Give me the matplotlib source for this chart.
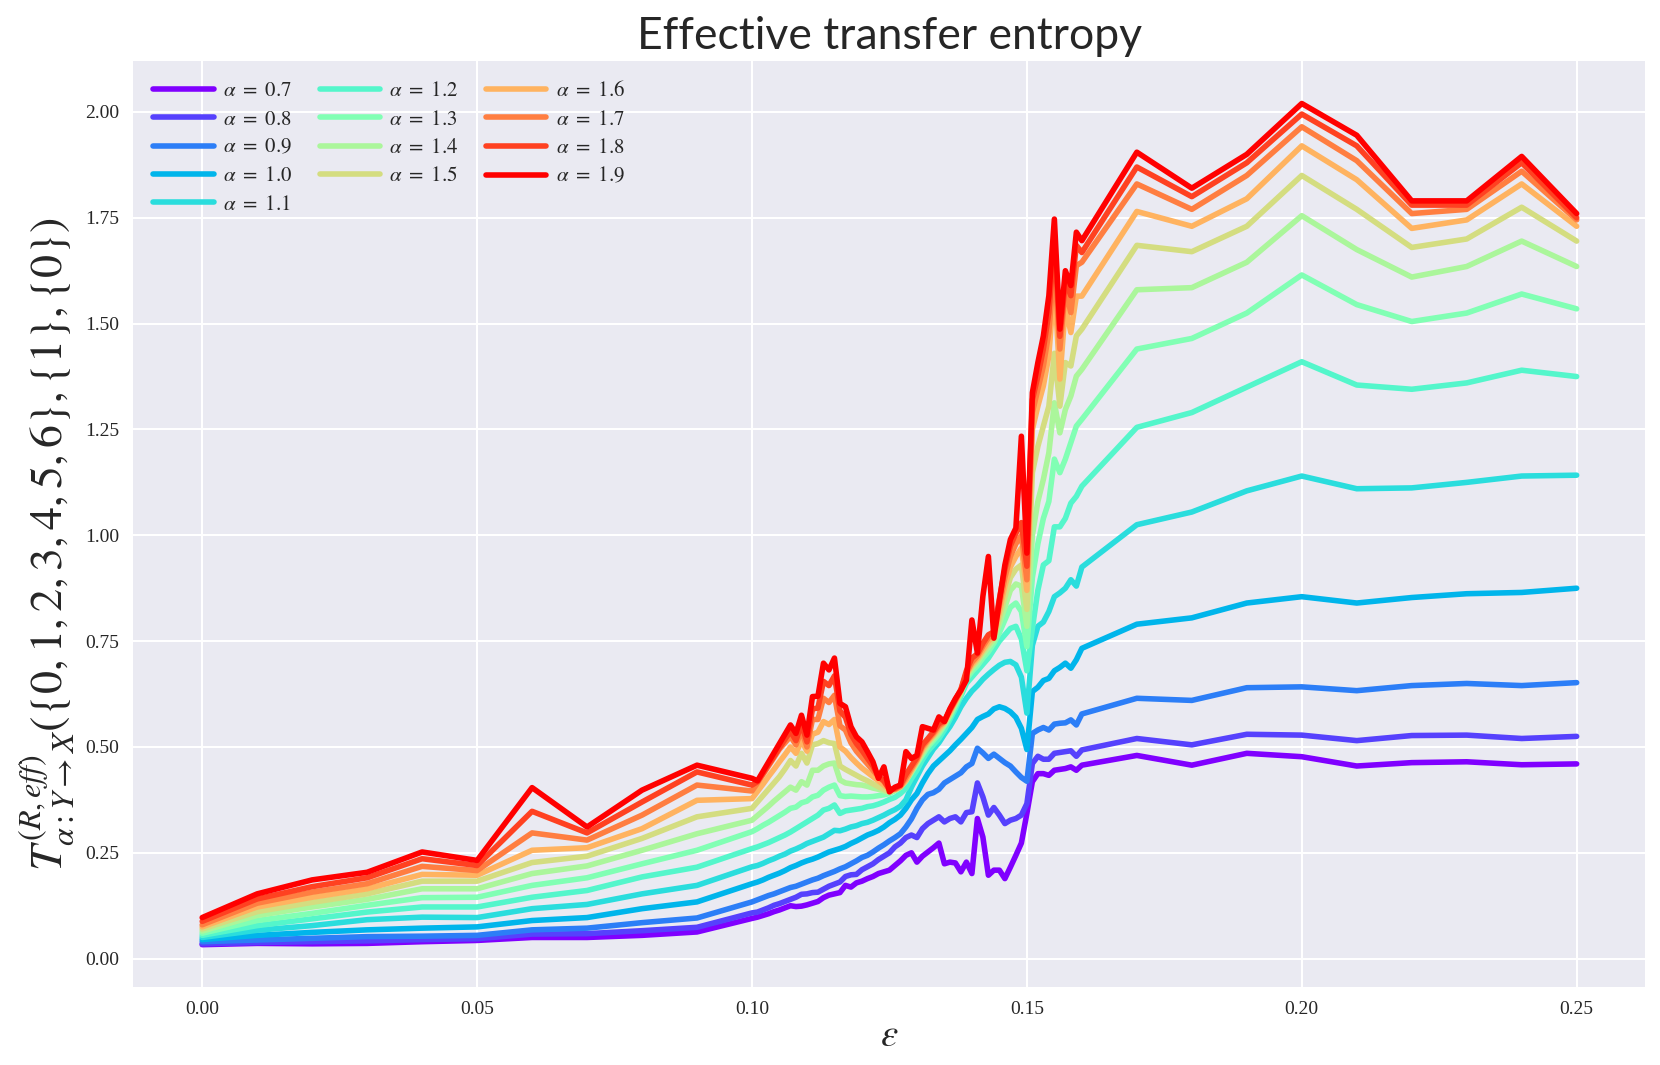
import numpy as np
import matplotlib
matplotlib.use('Agg')
import matplotlib.pyplot as plt

# epsilon grid: coarse 0.01 steps, fine 0.001 steps between 0.10 and 0.16
eps = np.concatenate([np.arange(0, 10) * 0.01,
                      np.arange(100, 161) * 0.001,
                      np.arange(17, 26) * 0.01])

alphas = [0.7, 0.8, 0.9, 1.0, 1.1, 1.2, 1.3, 1.4, 1.5, 1.6, 1.7, 1.8, 1.9]

te_07 = [0.033, 0.036, 0.035, 0.036, 0.040, 0.043, 0.050, 0.050, 0.055, 0.063,
         0.095, 0.098, 0.102, 0.106, 0.111, 0.115, 0.120, 0.125, 0.123, 0.124,
         0.127, 0.131, 0.135, 0.144, 0.150, 0.153, 0.156, 0.173, 0.169, 0.179,
         0.183, 0.189, 0.194, 0.201, 0.205, 0.209, 0.220, 0.231, 0.244, 0.250,
         0.228, 0.242, 0.252, 0.262, 0.273, 0.224, 0.228, 0.226, 0.205, 0.228,
         0.201, 0.331, 0.287, 0.197, 0.209, 0.209, 0.189, 0.216, 0.244, 0.273,
         0.343, 0.418, 0.437, 0.437, 0.433, 0.445, 0.447, 0.449, 0.453, 0.445,
         0.457,
         0.480, 0.457, 0.485, 0.477, 0.455, 0.463, 0.465, 0.458, 0.460]

te_08 = [0.035, 0.038, 0.040, 0.042, 0.045, 0.047, 0.058, 0.059, 0.066, 0.074,
         0.108, 0.110, 0.115, 0.120, 0.126, 0.130, 0.135, 0.140, 0.145, 0.152,
         0.153, 0.156, 0.157, 0.164, 0.171, 0.176, 0.181, 0.194, 0.198, 0.199,
         0.210, 0.217, 0.224, 0.234, 0.242, 0.250, 0.264, 0.273, 0.286, 0.292,
         0.286, 0.307, 0.319, 0.327, 0.335, 0.323, 0.331, 0.335, 0.323, 0.345,
         0.347, 0.415, 0.382, 0.339, 0.357, 0.339, 0.319, 0.327, 0.331, 0.339,
         0.366, 0.461, 0.478, 0.471, 0.471, 0.485, 0.487, 0.489, 0.491, 0.478,
         0.493,
         0.520, 0.505, 0.530, 0.528, 0.515, 0.527, 0.528, 0.520, 0.525]

te_09 = [0.040, 0.044, 0.048, 0.052, 0.053, 0.055, 0.068, 0.072, 0.085, 0.096,
         0.134, 0.139, 0.144, 0.149, 0.153, 0.158, 0.163, 0.168, 0.171, 0.176,
         0.181, 0.186, 0.190, 0.196, 0.201, 0.206, 0.212, 0.217, 0.224, 0.231,
         0.239, 0.244, 0.252, 0.261, 0.269, 0.278, 0.286, 0.295, 0.311, 0.330,
         0.355, 0.375, 0.388, 0.392, 0.400, 0.415, 0.423, 0.431, 0.439, 0.453,
         0.461, 0.497, 0.486, 0.473, 0.483, 0.473, 0.463, 0.455, 0.441, 0.428,
         0.419, 0.532, 0.540, 0.546, 0.540, 0.554, 0.556, 0.557, 0.564, 0.552,
         0.578,
         0.615, 0.610, 0.640, 0.642, 0.633, 0.645, 0.650, 0.645, 0.652]

te_10 = [0.045, 0.055, 0.062, 0.068, 0.072, 0.075, 0.090, 0.097, 0.118, 0.134,
         0.177, 0.181, 0.186, 0.192, 0.197, 0.202, 0.208, 0.215, 0.220, 0.226,
         0.231, 0.235, 0.240, 0.246, 0.252, 0.256, 0.260, 0.265, 0.272, 0.278,
         0.285, 0.292, 0.297, 0.303, 0.311, 0.321, 0.329, 0.339, 0.355, 0.375,
         0.390, 0.415, 0.437, 0.455, 0.467, 0.479, 0.491, 0.505, 0.518, 0.532,
         0.546, 0.565, 0.572, 0.578, 0.590, 0.595, 0.591, 0.583, 0.570, 0.544,
         0.494, 0.631, 0.641, 0.657, 0.662, 0.680, 0.688, 0.698, 0.686, 0.706,
         0.733,
         0.790, 0.805, 0.840, 0.855, 0.840, 0.853, 0.862, 0.865, 0.875]

te_11 = [0.050, 0.067, 0.078, 0.092, 0.098, 0.097, 0.118, 0.128, 0.153, 0.173,
         0.217, 0.220, 0.225, 0.231, 0.236, 0.242, 0.247, 0.254, 0.259, 0.265,
         0.272, 0.277, 0.282, 0.287, 0.295, 0.303, 0.302, 0.306, 0.311, 0.314,
         0.319, 0.322, 0.327, 0.333, 0.339, 0.346, 0.352, 0.360, 0.375, 0.405,
         0.430, 0.455, 0.475, 0.495, 0.510, 0.530, 0.548, 0.570, 0.595, 0.615,
         0.632, 0.645, 0.660, 0.672, 0.683, 0.693, 0.700, 0.702, 0.694, 0.665,
         0.580, 0.740, 0.785, 0.795, 0.820, 0.855, 0.864, 0.875, 0.895, 0.880,
         0.925,
         1.025, 1.055, 1.105, 1.140, 1.110, 1.112, 1.125, 1.140, 1.142]

te_12 = [0.055, 0.078, 0.094, 0.110, 0.122, 0.122, 0.145, 0.161, 0.193, 0.216,
         0.260, 0.264, 0.269, 0.274, 0.280, 0.286, 0.292, 0.299, 0.307, 0.315,
         0.323, 0.331, 0.339, 0.351, 0.355, 0.363, 0.343, 0.349, 0.351, 0.353,
         0.355, 0.359, 0.361, 0.365, 0.370, 0.376, 0.381, 0.390, 0.402, 0.425,
         0.445, 0.470, 0.490, 0.505, 0.520, 0.540, 0.565, 0.590, 0.620, 0.650,
         0.665, 0.680, 0.695, 0.710, 0.730, 0.750, 0.765, 0.780, 0.785, 0.755,
         0.680, 0.780, 0.870, 0.930, 0.940, 1.020, 1.020, 1.040, 1.076, 1.092,
         1.116,
         1.255, 1.290, 1.350, 1.410, 1.355, 1.345, 1.360, 1.390, 1.375]

te_13 = [0.060, 0.090, 0.107, 0.126, 0.144, 0.145, 0.173, 0.191, 0.224, 0.256,
         0.300, 0.307, 0.315, 0.322, 0.330, 0.338, 0.346, 0.355, 0.358, 0.368,
         0.372, 0.382, 0.386, 0.398, 0.405, 0.410, 0.385, 0.383, 0.384, 0.383,
         0.382, 0.382, 0.383, 0.385, 0.387, 0.390, 0.397, 0.405, 0.420, 0.440,
         0.460, 0.480, 0.500, 0.515, 0.530, 0.550, 0.572, 0.598, 0.625, 0.660,
         0.678, 0.692, 0.710, 0.725, 0.745, 0.770, 0.800, 0.830, 0.840, 0.820,
         0.737, 0.900, 0.980, 1.040, 1.080, 1.180, 1.148, 1.180, 1.219, 1.258,
         1.274,
         1.440, 1.465, 1.525, 1.615, 1.545, 1.505, 1.525, 1.570, 1.535]

te_14 = [0.065, 0.102, 0.122, 0.140, 0.165, 0.165, 0.201, 0.219, 0.256, 0.295,
         0.327, 0.338, 0.349, 0.360, 0.372, 0.383, 0.394, 0.405, 0.398, 0.418,
         0.410, 0.445, 0.445, 0.455, 0.460, 0.462, 0.422, 0.415, 0.413, 0.411,
         0.410, 0.407, 0.403, 0.400, 0.396, 0.393, 0.398, 0.405, 0.420, 0.440,
         0.462, 0.485, 0.505, 0.520, 0.535, 0.553, 0.576, 0.602, 0.628, 0.665,
         0.685, 0.700, 0.718, 0.735, 0.752, 0.790, 0.830, 0.870, 0.885, 0.880,
         0.785, 1.000, 1.080, 1.132, 1.195, 1.313, 1.242, 1.297, 1.329, 1.376,
         1.392,
         1.580, 1.585, 1.645, 1.755, 1.675, 1.610, 1.635, 1.695, 1.635]

te_15 = [0.070, 0.111, 0.133, 0.153, 0.183, 0.183, 0.227, 0.242, 0.284, 0.335,
         0.355, 0.370, 0.385, 0.400, 0.415, 0.430, 0.448, 0.468, 0.455, 0.485,
         0.462, 0.505, 0.508, 0.515, 0.510, 0.508, 0.455, 0.447, 0.440, 0.433,
         0.426, 0.420, 0.413, 0.406, 0.400, 0.394, 0.398, 0.405, 0.420, 0.445,
         0.465, 0.490, 0.510, 0.525, 0.540, 0.556, 0.580, 0.605, 0.630, 0.670,
         0.690, 0.705, 0.725, 0.742, 0.758, 0.805, 0.855, 0.900, 0.920, 0.930,
         0.825, 1.148, 1.210, 1.258, 1.305, 1.430, 1.305, 1.408, 1.400, 1.471,
         1.487,
         1.685, 1.670, 1.730, 1.850, 1.770, 1.680, 1.700, 1.775, 1.695]

te_16 = [0.075, 0.122, 0.145, 0.165, 0.199, 0.197, 0.256, 0.262, 0.307, 0.374,
         0.378, 0.395, 0.412, 0.430, 0.447, 0.465, 0.482, 0.500, 0.485, 0.515,
         0.490, 0.530, 0.535, 0.560, 0.553, 0.565, 0.500, 0.490, 0.475, 0.462,
         0.450, 0.440, 0.430, 0.420, 0.410, 0.398, 0.400, 0.406, 0.422, 0.445,
         0.468, 0.495, 0.513, 0.528, 0.545, 0.558, 0.583, 0.608, 0.632, 0.672,
         0.695, 0.710, 0.730, 0.750, 0.763, 0.820, 0.880, 0.925, 0.950, 0.970,
         0.870, 1.250, 1.305, 1.353, 1.424, 1.600, 1.369, 1.540, 1.479, 1.565,
         1.565,
         1.765, 1.730, 1.795, 1.920, 1.840, 1.725, 1.745, 1.830, 1.730]

te_17 = [0.080, 0.131, 0.157, 0.177, 0.218, 0.208, 0.297, 0.280, 0.339, 0.410,
         0.396, 0.415, 0.435, 0.455, 0.475, 0.495, 0.510, 0.525, 0.505, 0.540,
         0.500, 0.565, 0.565, 0.615, 0.605, 0.622, 0.550, 0.540, 0.510, 0.490,
         0.475, 0.460, 0.445, 0.430, 0.418, 0.400, 0.400, 0.407, 0.428, 0.450,
         0.470, 0.500, 0.517, 0.532, 0.550, 0.560, 0.586, 0.610, 0.634, 0.675,
         0.700, 0.715, 0.738, 0.758, 0.768, 0.835, 0.900, 0.950, 0.980, 1.000,
         0.895, 1.290, 1.345, 1.400, 1.480, 1.645, 1.440, 1.582, 1.526, 1.637,
         1.645,
         1.830, 1.770, 1.850, 1.965, 1.885, 1.760, 1.770, 1.860, 1.745]

te_18 = [0.088, 0.141, 0.170, 0.191, 0.236, 0.220, 0.348, 0.297, 0.370, 0.441,
         0.410, 0.418, 0.438, 0.458, 0.478, 0.498, 0.518, 0.537, 0.515, 0.555,
         0.512, 0.590, 0.592, 0.655, 0.645, 0.668, 0.585, 0.570, 0.530, 0.508,
         0.492, 0.473, 0.455, 0.430, 0.420, 0.400, 0.402, 0.410, 0.435, 0.455,
         0.475, 0.505, 0.520, 0.536, 0.555, 0.562, 0.588, 0.612, 0.636, 0.680,
         0.710, 0.720, 0.745, 0.765, 0.772, 0.850, 0.920, 0.975, 1.005, 1.030,
         0.927, 1.320, 1.376, 1.440, 1.526, 1.700, 1.470, 1.600, 1.566, 1.685,
         1.668,
         1.870, 1.800, 1.880, 1.995, 1.920, 1.780, 1.780, 1.880, 1.750]

te_19 = [0.097, 0.153, 0.186, 0.204, 0.252, 0.232, 0.404, 0.311, 0.398, 0.457,
         0.426, 0.420, 0.442, 0.464, 0.486, 0.508, 0.530, 0.552, 0.532, 0.575,
         0.528, 0.619, 0.620, 0.698, 0.682, 0.710, 0.603, 0.595, 0.548, 0.524,
         0.512, 0.489, 0.465, 0.426, 0.453, 0.394, 0.405, 0.410, 0.489, 0.473,
         0.480, 0.548, 0.544, 0.540, 0.571, 0.560, 0.590, 0.614, 0.634, 0.658,
         0.800, 0.722, 0.856, 0.950, 0.757, 0.845, 0.930, 0.990, 1.017, 1.234,
         0.958, 1.337, 1.408, 1.471, 1.566, 1.747, 1.487, 1.625, 1.590, 1.716,
         1.696,
         1.905, 1.820, 1.900, 2.020, 1.945, 1.790, 1.790, 1.895, 1.760]

series = [te_07, te_08, te_09, te_10, te_11, te_12, te_13,
          te_14, te_15, te_16, te_17, te_18, te_19]

plt.style.use('seaborn-v0_8-darkgrid')
plt.rcParams['font.family'] = ['Liberation Serif', 'DejaVu Serif']
plt.rcParams['mathtext.fontset'] = 'stix'

fig = plt.figure(figsize=(16.6, 10.65), dpi=100)
ax = fig.add_axes([0.0804, 0.0735, 0.9108, 0.8688])

colors = plt.cm.rainbow(np.linspace(0, 1, len(alphas)))
for a, vals, c in zip(alphas, series, colors):
    ax.plot(eps, vals, color=c, lw=4.0, label=r'$\alpha\ =\ %.1f$' % a)

ax.set_yticks(np.arange(0, 2.01, 0.25))
ax.set_xticks(np.arange(0, 0.251, 0.05))
ax.xaxis.set_major_formatter(matplotlib.ticker.FormatStrFormatter('%.2f'))
ax.yaxis.set_major_formatter(matplotlib.ticker.FormatStrFormatter('%.2f'))
ax.tick_params(labelsize=14, pad=10, length=0, labelcolor='#262626')
ax.grid(color='white', lw=1.5)

ax.set_title('Effective transfer entropy', fontsize=32, family='Lato', pad=9)
ax.set_xlabel(r'$\varepsilon$', fontsize=28, labelpad=0)
ax.set_ylabel(r'$T^{(R,eff)}_{\alpha:Y\to X}(\{0,1,2,3,4,5,6\},\{1\},\{0\})$',
              fontsize=33, labelpad=6)
ax.yaxis.label.set_y(0.478)

ax.legend(loc='upper left', ncol=3, fontsize=15, frameon=False,
          handlelength=2.9, handletextpad=0.45, columnspacing=1.3,
          labelspacing=0.42, borderaxespad=0.55)

fig.savefig('out.png', dpi=100)
